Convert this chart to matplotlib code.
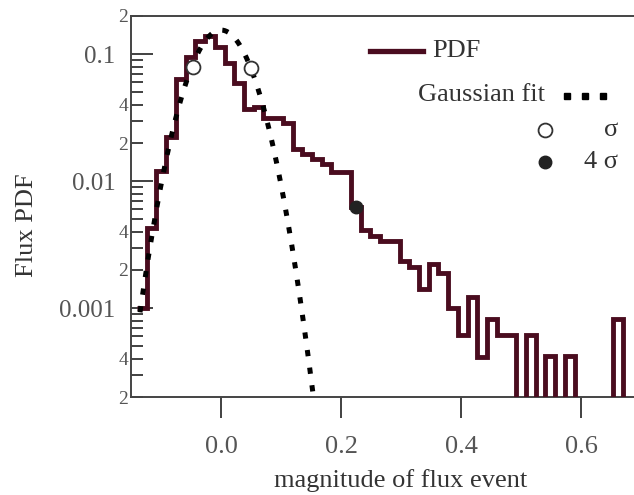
import numpy as np
import matplotlib
matplotlib.use('Agg')
import matplotlib.pyplot as plt
from matplotlib.ticker import FixedLocator, FixedFormatter

# ---- data ----
bin_start = -0.14
bin_width = 0.0162
pdf_values = [0.001, 0.0043, 0.012, 0.0225, 0.064, 0.095, 0.126, 0.138, 0.113, 0.085,
              0.059, 0.037, 0.0386, 0.0316, 0.0316, 0.0289, 0.0178, 0.0163, 0.0149, 0.0136,
              0.0118, 0.0118, 0.0063, 0.0041, 0.0037, 0.0034, 0.0034, 0.00237, 0.0021, 0.00143,
              0.00225, 0.00188, 0.001, 0.00062, 0.00122, 0.00041, 0.00082, 0.00062, 0.00062, 0.0,
              0.00062, 0.0, 0.00042, 0.0, 0.00042, 0.0, 0.0, 0.0, 0.0, 0.00083, 0.0]

gauss_mu = 0.0
gauss_sigma = 0.0422
gauss_amp = 0.155
gauss_xmin, gauss_xmax = -0.135, 0.16

sigma_x = [-0.047, 0.05]
sigma_y = [0.080, 0.078]
four_sigma_x = [0.225]
four_sigma_y = [0.0063]

x_ticks = [0.0, 0.2, 0.4, 0.6]
x_tick_labels = ['0.0', '0.2', '0.4', '0.6']
y_major = [0.001, 0.01, 0.1]
y_major_labels = ['0.001', '0.01', '0.1']
y_minor = [2e-4, 3e-4, 4e-4, 5e-4, 6e-4, 7e-4, 8e-4, 9e-4,
           2e-3, 3e-3, 4e-3, 5e-3, 6e-3, 7e-3, 8e-3, 9e-3,
           2e-2, 3e-2, 4e-2, 5e-2, 6e-2, 7e-2, 8e-2, 9e-2, 0.2]
y_minor_labels = ['2', '', '4', '', '', '', '', '',
                  '2', '', '4', '', '', '', '', '',
                  '2', '', '4', '', '', '', '', '', '2']

# ---- figure ----
plt.rcParams['font.family'] = ['Liberation Serif', 'DejaVu Serif']
fig = plt.figure(figsize=(6.34, 4.95), dpi=100)
ax = fig.add_axes([131 / 634, 1 - 397 / 495, 503 / 634, 381 / 495])

maroon = '#4a0c1f'
edges = bin_start + bin_width * np.arange(len(pdf_values) + 1)
vals = np.array(pdf_values)
vals_plot = np.where(vals > 0, vals, 1e-7)
ax.stairs(vals_plot, edges, baseline=None, color=maroon, lw=3.5, zorder=3)

gx = np.linspace(gauss_xmin, gauss_xmax, 400)
gy = gauss_amp * np.exp(-(gx - gauss_mu) ** 2 / (2 * gauss_sigma ** 2))
ax.plot(gx, gy, color='black', lw=3.6, linestyle=(0, (1.25, 2.3)),
        dash_capstyle='butt', zorder=4)

ax.plot(sigma_x, sigma_y, 'o', ms=10, mfc='white', mec='#333333', mew=1.3, zorder=5)
ax.plot(four_sigma_x, four_sigma_y, 'o', ms=9, mfc='#222222', mec='#222222', zorder=5)

ax.set_yscale('log')
ax.set_xlim(-0.15, 0.688)
ax.set_ylim(2e-4, 0.2)

ax.xaxis.set_major_locator(FixedLocator(x_ticks))
ax.xaxis.set_major_formatter(FixedFormatter(x_tick_labels))
ax.xaxis.set_minor_locator(FixedLocator([]))
ax.yaxis.set_major_locator(FixedLocator(y_major))
ax.yaxis.set_major_formatter(FixedFormatter(y_major_labels))
ax.yaxis.set_minor_locator(FixedLocator(y_minor))
ax.yaxis.set_minor_formatter(FixedFormatter(y_minor_labels))

tick_col = '#555555'
ax.tick_params(axis='x', which='major', direction='out', length=15, width=1.3,
               pad=13, labelsize=19, labelcolor=tick_col, color='#333333')
ax.tick_params(axis='y', which='major', direction='in', length=16, width=1.3,
               pad=11, labelsize=18, labelcolor=tick_col, color='#333333')
ax.tick_params(axis='y', which='minor', direction='in', length=8.5, width=1.3,
               pad=2, labelsize=14, labelcolor=tick_col, color='#333333')

for s in ['left', 'bottom', 'top']:
    ax.spines[s].set_linewidth(1.4)
    ax.spines[s].set_color('#444444')
ax.spines['right'].set_visible(False)

ax.set_xlabel('magnitude of flux event', fontsize=19, color='#333333')
ax.xaxis.set_label_coords(0.537, -0.19)
ax.set_ylabel('Flux PDF', fontsize=19, color='#333333')
ax.yaxis.set_label_coords(-0.185, 0.45)

# ---- legend (drawn by hand to match layout) ----
T = ax.transAxes
ax.plot([0.475, 0.58], [0.908, 0.908], color=maroon, lw=3.8, transform=T, clip_on=False)
ax.text(0.598, 0.908, 'PDF', transform=T, fontsize=19, color='#333333', va='center', ha='left')
ax.text(0.823, 0.793, 'Gaussian fit', transform=T, fontsize=19, color='#333333', va='center', ha='right')
ax.plot([0.866, 0.902, 0.938], [0.790] * 3, 's', ms=5, color='black', transform=T, clip_on=False)
ax.plot([0.823], [0.701], 'o', ms=10, mfc='white', mec='#333333', mew=1.3, transform=T, clip_on=False)
ax.text(0.968, 0.701, 'σ', transform=T, fontsize=19, color='#333333', va='center', ha='right')
ax.plot([0.823], [0.617], 'o', ms=9, mfc='#222222', mec='#222222', transform=T, clip_on=False)
ax.text(0.968, 0.617, '4 σ', transform=T, fontsize=19, color='#333333', va='center', ha='right')

fig.savefig('out.png', dpi=100)
